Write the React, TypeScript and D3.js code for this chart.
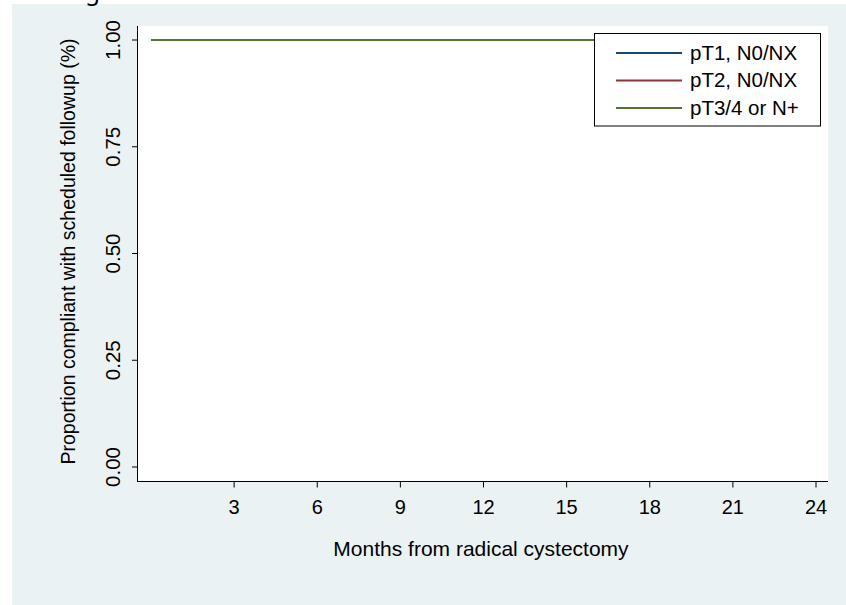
import React from "react";
import * as d3 from "d3";

const seriesNames = ["pT1, N0/NX", "pT2, N0/NX", "pT3/4 or N+"];
const seriesColors = ["#1a476f", "#90353b", "#55752f"];
const months = [0, 24];
const pT1Values = [1, 1];
const pT2Values = [1, 1];
const pT3Values = [1, 1];
const xTicks = [3, 6, 9, 12, 15, 18, 21, 24];
const yTicks = [0, 0.25, 0.5, 0.75, 1];

const W = 846;
const H = 605;

export default function App() {
  const x = d3.scaleLinear().domain([0, 24]).range([151, 816]);
  const y = d3.scaleLinear().domain([0, 1]).range([467, 40]);
  const plot = { left: 137, top: 26, right: 828, bottom: 481.5 };
  const allValues = [pT1Values, pT2Values, pT3Values];
  const line = d3
    .line<[number, number]>()
    .x((d) => x(d[0]))
    .y((d) => y(d[1]))
    .curve(d3.curveStepAfter);
  const font = "'Liberation Sans', Arial, sans-serif";
  const legend = { x: 594, y: 33, w: 226, rowH: 27.5 };

  return (
    <svg
      width={W}
      height={H}
      style={{ position: "absolute", left: 0, top: 0, background: "#ffffff" }}
      fontFamily={font}
    >
      <rect x={12} y={4} width={W - 12} height={H - 4} fill="#eaf2f3" />
      <text
        x={50}
        y={-0.5}
        fontSize={24}
        style={{ fontFamily: "'Noto Sans', 'DejaVu Sans', sans-serif" }}
        fill="#000"
      >
        Stages
      </text>
      <rect
        x={plot.left}
        y={plot.top}
        width={plot.right - plot.left}
        height={plot.bottom - plot.top}
        fill="#ffffff"
      />
      {allValues.map((vals, i) => (
        <path
          key={i}
          d={line(months.map((m, j) => [m, vals[j]] as [number, number])) || ""}
          fill="none"
          stroke={seriesColors[i]}
          strokeWidth={2}
        />
      ))}
      {/* y axis */}
      <line x1={plot.left + 0.5} x2={plot.left + 0.5} y1={plot.top} y2={plot.bottom} stroke="#000" strokeWidth={1} />
      {yTicks.map((t) => (
        <g key={t}>
          <line x1={plot.left - 5} x2={plot.left} y1={y(t)} y2={y(t)} stroke="#000" strokeWidth={1} />
          <text
            transform={`translate(${120},${y(t)}) rotate(-90)`}
            textAnchor="middle"
            fontSize={20.5}
            fill="#000"
          >
            {d3.format(".2f")(t)}
          </text>
        </g>
      ))}
      <text
        transform={`translate(75,${(40 + 467) / 2 - 2}) rotate(-90)`}
        textAnchor="middle"
        fontSize={19.5}
        fill="#000"
      >
        Proportion compliant with scheduled followup (%)
      </text>
      {/* x axis */}
      <line x1={plot.left} x2={plot.right} y1={plot.bottom} y2={plot.bottom} stroke="#000" strokeWidth={1} />
      {xTicks.map((t) => (
        <g key={t}>
          <line x1={x(t)} x2={x(t)} y1={plot.bottom} y2={plot.bottom + 6} stroke="#000" strokeWidth={1} />
          <text x={x(t)} y={513.5} textAnchor="middle" fontSize={20} fill="#000">
            {t}
          </text>
        </g>
      ))}
      <text x={481} y={556} textAnchor="middle" fontSize={21} fill="#000">
        Months from radical cystectomy
      </text>
      {/* legend */}
      <rect
        x={legend.x + 0.5}
        y={legend.y + 0.5}
        width={legend.w}
        height={legend.rowH * 3 + 10}
        fill="#ffffff"
        stroke="#000"
        strokeWidth={1}
      />
      {seriesNames.map((name, i) => {
        const cy = legend.y + 20 + i * legend.rowH;
        return (
          <g key={name}>
            <line x1={616} x2={682} y1={cy} y2={cy} stroke={seriesColors[i]} strokeWidth={2} />
            <text x={690} y={cy + 6.5} fontSize={20.5} fill="#000">
              {name}
            </text>
          </g>
        );
      })}
    </svg>
  );
}
